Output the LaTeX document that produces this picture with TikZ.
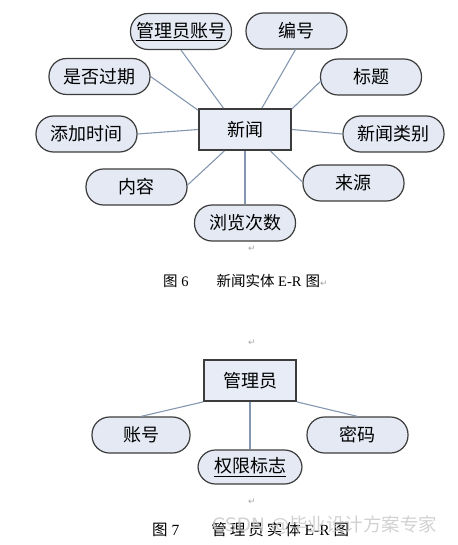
\documentclass[tikz,border=0pt]{standalone}
\usepackage{fontspec}
\setmainfont{Liberation Serif}
\newfontfamily\cjk{Noto Sans CJK SC}
\newfontfamily\symf{DejaVu Sans}
\usetikzlibrary{calc}
\definecolor{attrfill}{HTML}{E4E9F4}
\definecolor{entfill}{HTML}{E8ECF6}
\definecolor{edgecol}{HTML}{3C3C3C}
\definecolor{linkcol}{HTML}{8497B0}
\begin{document}
\begin{tikzpicture}[x=1pt,y=-1pt,
  attr/.style={draw=edgecol,line width=1.2pt,fill=attrfill,rounded corners=17.5pt,
    minimum width=101pt,minimum height=36pt,inner sep=0pt,font=\cjk\fontsize{18}{18}\selectfont},
  ent/.style={draw=edgecol,line width=1.8pt,fill=entfill,
    minimum width=92pt,minimum height=41pt,inner sep=0pt,font=\cjk\fontsize{18}{18}\selectfont},
  link/.style={draw=linkcol,line width=1.1pt},
  para/.style={font=\symf\fontsize{9}{9}\selectfont,text=gray!70},
  captext/.style={font=\fontsize{14.5}{14.5}\selectfont,inner sep=0pt}]
\useasboundingbox (0,0) rectangle (457,545);
% ---- Figure 6 ----
\node[ent] (news) at (245,129.5) {新闻};
\node[attr] (a1) at (181,31.5) {\underline{管理员账号}};
\node[attr] (a2) at (296.5,31) {编号};
\node[attr] (a3) at (99.5,76.5) {是否过期};
\node[attr] (a4) at (371,77) {标题};
\node[attr] (a5) at (86.5,134) {添加时间};
\node[attr] (a6) at (393.5,134) {新闻类别};
\node[attr] (a7) at (136.5,187) {内容};
\node[attr] (a8) at (353.5,183) {来源};
\node[attr] (a9) at (245,223) {浏览次数};
\draw[link] (a1.south) -- ($(news.north west)!0.27!(news.north east)$);
\draw[link] ($(a2.south)+(-1,0)$) -- ($(news.north west)!0.68!(news.north east)$);
\draw[link] (a3.east) -- ($(news.north west)!0.05!(news.south west)$);
\draw[link] ($(a4.west)+(2,3)$) -- ($(news.north east)!0.02!(news.south east)$);
\draw[link] (a5.east) -- ($(news.north west)!0.5!(news.south west)$);
\draw[link] (a6.west) -- ($(news.north east)!0.5!(news.south east)$);
\draw[link] ($(a7.east)+(0,-2)$) -- ($(news.south west)!0.28!(news.south east)$);
\draw[link] ($(a8.west)+(0,-1)$) -- ($(news.south west)!0.77!(news.south east)$);
\draw[link] (a9.north) -- (news.south);
\node[para] (p1) at (252,249) {↵};
\node[captext,anchor=west] (c6) at (163,281) {{\cjk 图} 6\hspace{28pt}{\cjk 新闻实体} E-R\hspace{4pt}{\cjk 图}{\symf\fontsize{9}{9}\selectfont\color{gray!70}↵}};
\node[para] (p2) at (252,343) {↵};
% ---- Figure 7 ----
\node[ent] (adm) at (250,380.5) {管理员};
\node[attr,minimum width=98pt] (b1) at (141,435) {账号};
\node[attr] (b2) at (357.5,435) {密码};
\node[attr,minimum width=104pt,minimum height=34pt] (b3) at (250,467) {\underline{权限标志}};
\draw[link] (b1.north) -- (adm.south west);
\draw[link] (b2.north) -- (adm.south east);
\draw[link] (b3.north) -- (adm.south);
\node[para] (p3) at (252,502) {↵};
\node[captext,anchor=west,font=\fontsize{15.5}{15.5}\selectfont] (c7) at (152,530) {{\cjk 图} 7\hspace{32pt}{\cjk 管\hspace{3pt}理\hspace{3pt}员\hspace{3pt}实\hspace{3pt}体} E-R\hspace{4pt}{\cjk 图}};
\node[anchor=west,inner sep=0pt,text=gray!45,opacity=0.8,font=\fontsize{18.5}{18.5}\selectfont] (wm) at (212,525) {{\symf CSDN @}{\cjk 毕业设计方案专家}};
\end{tikzpicture}
\end{document}
